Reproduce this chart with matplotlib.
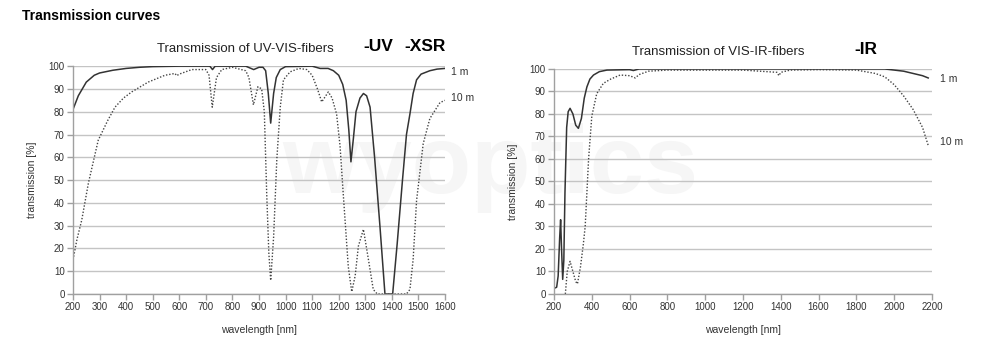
import matplotlib.pyplot as plt

# left chart: UV-VIS fibers
uv_wl_1m = [200, 220, 250, 280, 300, 350, 400, 450, 500, 600, 700, 715, 725, 735, 850, 870, 880,
            900, 915, 925, 935, 944, 955, 965, 980, 1000, 1100, 1130, 1160, 1180, 1200, 1215, 1228,
            1238, 1246, 1255, 1265, 1280, 1293, 1305, 1318, 1335, 1355, 1374, 1403, 1420, 1440,
            1455, 1468, 1480, 1493, 1510, 1543, 1570, 1600]
uv_t_1m = [81, 87, 93, 96, 97, 98.2, 99, 99.5, 99.8, 100, 100, 100, 98.5, 100, 100, 99, 98.5,
           99.5, 99.5, 98, 88, 75, 88, 95, 98.5, 99.8, 100, 99, 99, 98, 96, 92, 85,
           72, 58, 68, 80, 86, 88, 87, 82, 60, 30, 0, 0, 22, 50, 70, 79, 88, 94, 96.5, 98, 98.7, 99]

uv_wl_10m = [200, 215, 233, 258, 295, 330, 358, 390, 421, 483, 546, 584, 590, 600, 647, 700, 712,
             724, 740, 760, 800, 850, 862, 879, 896, 910, 920, 929, 937, 944, 955, 967, 980, 992,
             1017, 1050, 1080, 1100, 1120, 1136, 1161, 1175, 1192, 1205, 1217, 1236, 1249, 1262,
             1274, 1293, 1312, 1330, 1345, 1400, 1455, 1468, 1480, 1493, 1518, 1543, 1581, 1600]
uv_t_10m = [15, 24, 32.5, 48.7, 67.5, 76, 82, 86, 88.7, 93, 96, 96.8, 95.8, 96.5, 98.5, 98.5, 96,
            82, 95, 98.5, 99.5, 98, 95, 83, 91, 90, 80, 44, 18, 6, 25, 59, 82, 94,
            97.5, 99, 98.5, 96, 90, 84.3, 88.7, 86, 79, 65, 44, 12, 1, 8,
            21, 28.4, 15, 2, 0, 0, 0, 2, 15, 41, 66, 77, 84, 85]

# right chart: VIS-IR fibers
ir_wl_1m = [200, 214, 222, 230, 235, 240, 246, 252, 258, 267, 275, 285, 300, 315, 329, 345, 360,
            374, 390, 409, 440, 480, 600, 620, 650, 800, 1000, 1400, 1800, 1950, 2000, 2050, 2100,
            2150, 2180]
ir_t_1m = [2.5, 3, 8, 25, 33, 20, 6.5, 15, 45, 74, 81, 82.5, 80, 75, 73.6, 78, 87,
           92, 95.5, 97.3, 98.8, 99.5, 99.7, 99.3, 100, 100, 100, 100, 100, 100, 99.5, 99, 98,
           97, 96]

ir_wl_10m = [260, 270, 285, 300, 315, 324, 340, 355, 365, 383, 400, 426, 461, 500, 550, 600, 630,
             650, 700, 800, 1000, 1200, 1380, 1390, 1400, 1450, 1600, 1800, 1900, 1950, 2000,
             2050, 2100, 2150, 2180]
ir_t_10m = [0, 10, 14.5, 10, 5.5, 4.5, 12, 22, 30, 60, 79, 89, 93.6, 95.5, 97.3, 97, 96,
            97.5, 99, 99.5, 99.5, 99.5, 98.5, 97, 98.5, 99.5, 99.7, 99.5, 98, 96.5, 93,
            88, 82, 74, 66]

y_ticks = list(range(0, 101, 10))
uv_x_ticks = list(range(200, 1601, 100))
ir_x_ticks = list(range(200, 2201, 200))

plt.rcParams['font.family'] = ['Liberation Sans', 'DejaVu Sans']

fig = plt.figure(figsize=(10, 3.5), dpi=100)
fig.patch.set_facecolor('white')

fig.text(0.022, 0.953, "Transmission curves", fontsize=10, fontweight='bold', va='center')

# faint watermark, behind everything
fig.text(0.49, 0.52, "wyoptics", fontsize=70, fontweight='bold', color='#f6f6f6',
         ha='center', va='center', zorder=-5)


def style_axes(ax, xticks, xlim):
    ax.set_facecolor('none')
    ax.set_xlim(xlim)
    ax.set_ylim(0, 100)
    ax.set_xticks(xticks)
    ax.set_yticks(y_ticks)
    ax.grid(axis='y', color='#c4c4c4', linewidth=1)
    ax.set_axisbelow(True)
    for s in ['top', 'right']:
        ax.spines[s].set_visible(False)
    for s in ['left', 'bottom']:
        ax.spines[s].set_color('#a0a0a0')
        ax.spines[s].set_linewidth(1)
    ax.tick_params(axis='both', colors='#a0a0a0', labelcolor='#333333', labelsize=7,
                   length=4, width=1, pad=2)
    ax.set_xlabel("wavelength [nm]", fontsize=7.5, color='#333333', labelpad=9)
    ax.set_ylabel("transmission [%]", fontsize=7.5, color='#333333', labelpad=8)


ax1 = fig.add_axes([0.073, 0.16, 0.372, 0.651])
ax1.plot(uv_wl_1m, uv_t_1m, color='#333333', linewidth=1.1)
ax1.plot(uv_wl_10m, uv_t_10m, color='#444444', linewidth=1.0, linestyle=(0, (1, 1.3)))
style_axes(ax1, uv_x_ticks, (200, 1600))

ax2 = fig.add_axes([0.554, 0.16, 0.378, 0.643])
ax2.plot(ir_wl_1m, ir_t_1m, color='#333333', linewidth=1.1)
ax2.plot(ir_wl_10m, ir_t_10m, color='#444444', linewidth=1.0, linestyle=(0, (1, 1.3)))
style_axes(ax2, ir_x_ticks, (200, 2200))

# titles
fig.text(0.245, 0.86, "Transmission of UV-VIS-fibers", fontsize=9.5, color='#222222',
         ha='center', va='center')
fig.text(0.378, 0.866, "-UV", fontsize=12.5, fontweight='bold', ha='center', va='center',
         family=['Liberation Sans Narrow', 'Liberation Sans'])
fig.text(0.425, 0.866, "-XSR", fontsize=12.5, fontweight='bold', ha='center', va='center',
         family=['Liberation Sans Narrow', 'Liberation Sans'])
fig.text(0.718, 0.851, "Transmission of VIS-IR-fibers", fontsize=9.5, color='#222222',
         ha='center', va='center')
fig.text(0.866, 0.86, "-IR", fontsize=12.5, fontweight='bold', ha='center', va='center',
         family=['Liberation Sans Narrow', 'Liberation Sans'])

# length labels
fig.text(0.451, 1 - 72 / 350, "1 m", fontsize=7.5, color='#333333', va='center')
fig.text(0.451, 1 - 98 / 350, "10 m", fontsize=7.5, color='#333333', va='center')
fig.text(0.940, 1 - 79 / 350, "1 m", fontsize=7.5, color='#333333', va='center')
fig.text(0.940, 1 - 142 / 350, "10 m", fontsize=7.5, color='#333333', va='center')

fig.savefig("out.png", dpi=100)
